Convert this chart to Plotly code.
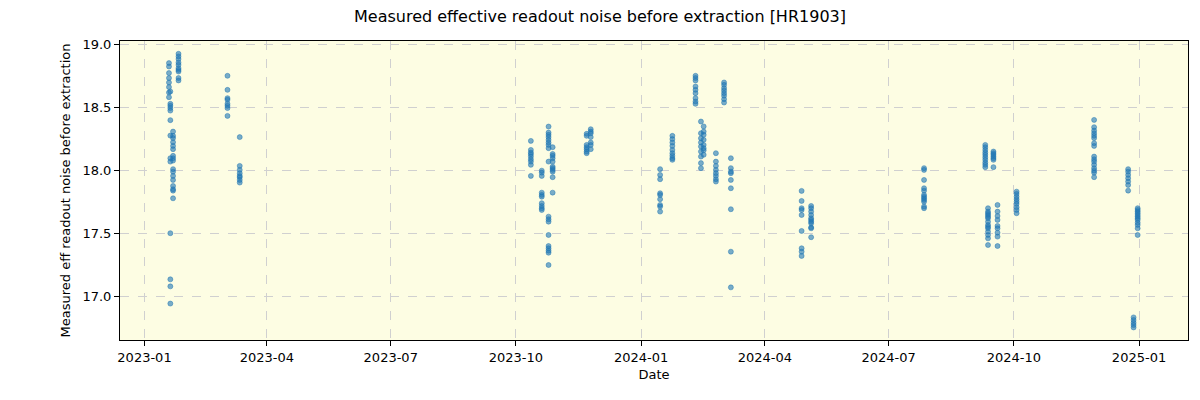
import plotly.graph_objects as go

# Observation nights (dates) and the measured noise values for each night
night_dates = [
    "2023-01-19", "2023-01-20", "2023-01-22", "2023-01-26",
    "2023-03-03", "2023-03-12",
    "2023-10-12", "2023-10-20", "2023-10-25", "2023-10-28",
    "2023-11-22", "2023-11-25",
    "2024-01-15", "2024-01-24", "2024-02-10", "2024-02-14", "2024-02-16",
    "2024-02-25", "2024-03-02", "2024-03-07",
    "2024-04-28", "2024-05-05",
    "2024-07-27", "2024-09-10", "2024-09-12", "2024-09-16", "2024-09-19",
    "2024-10-03",
    "2024-11-29", "2024-12-24", "2024-12-28", "2024-12-31",
]

night_values = [
    [18.854, 18.827, 18.775, 18.735, 18.70, 18.663, 18.62, 18.583],
    [18.628, 18.53, 18.514, 18.496, 18.476, 18.40, 18.277, 18.097, 18.07,
     17.50, 17.133, 17.077, 16.94],
    [18.309, 18.275, 18.257, 18.225, 18.195, 18.169, 18.116, 18.097, 18.078,
     18.01, 17.99, 17.956, 17.924, 17.876, 17.85, 17.839, 17.778],
    [18.928, 18.907, 18.886, 18.859, 18.84, 18.814, 18.80, 18.787, 18.735, 18.716],
    [18.753, 18.641, 18.575, 18.562, 18.53, 18.514, 18.496, 18.434],
    [18.265, 18.036, 18.004, 17.978, 17.956, 17.946, 17.924, 17.903],
    [18.235, 18.163, 18.142, 18.129, 18.11, 18.089, 18.07, 18.044, 17.956],
    [17.998, 17.982, 17.956, 17.823, 17.805, 17.791, 17.739, 17.717, 17.699, 17.685],
    [18.349, 18.301, 18.283, 18.265, 18.243, 18.222, 18.203, 18.177, 18.07,
     17.632, 17.611, 17.592, 17.486, 17.398, 17.38, 17.361, 17.345, 17.247],
    [18.185, 18.131, 18.116, 18.097, 18.07, 18.03, 18.018, 18.004, 17.99, 17.946, 17.823],
    [18.291, 18.275, 18.203, 18.185, 18.169, 18.15, 18.137],
    [18.328, 18.309, 18.296, 18.265, 18.222, 18.203, 18.169],
    [18.01, 17.964, 17.93, 17.818, 17.805, 17.771, 17.725, 17.712, 17.672],
    [18.275, 18.249, 18.222, 18.195, 18.163, 18.137, 18.116, 18.097, 18.084],
    [18.753, 18.735, 18.716, 18.668, 18.641, 18.615, 18.575, 18.548, 18.53],
    [18.389, 18.296, 18.256, 18.222, 18.19, 18.15, 18.11, 18.058, 18.018],
    [18.35, 18.309, 18.283, 18.243, 18.203, 18.177, 18.124, 18.16],
    [18.137, 18.07, 18.036, 18.004, 17.978, 17.956, 17.93, 17.911],
    [18.70, 18.681, 18.655, 18.636, 18.615, 18.594, 18.567, 18.54],
    [18.097, 18.018, 17.99, 17.978, 17.924, 17.858, 17.691, 17.353, 17.069],
    [17.837, 17.757, 17.699, 17.685, 17.645, 17.518, 17.38, 17.353, 17.319],
    [17.717, 17.699, 17.672, 17.645, 17.619, 17.606, 17.592, 17.579, 17.547,
     17.539, 17.468],
    [18.018, 18.004, 17.924, 17.858, 17.839, 17.805, 17.791, 17.778, 17.765,
     17.751, 17.712, 17.699],
    [18.203, 18.185, 18.163, 18.142, 18.124, 18.105, 18.084, 18.062, 18.044, 18.026],
    [17.699, 17.672, 17.658, 17.645, 17.632, 17.619, 17.592, 17.566, 17.552,
     17.539, 17.512, 17.486, 17.459, 17.406],
    [18.15, 18.137, 18.124, 18.11, 18.097, 18.084, 18.026],
    [17.725, 17.672, 17.637, 17.606, 17.558, 17.539, 17.504, 17.473, 17.398],
    [17.831, 17.813, 17.791, 17.771, 17.751, 17.733, 17.707, 17.685, 17.659],
    [18.402, 18.344, 18.317, 18.296, 18.275, 18.257, 18.217, 18.195,
     18.11, 18.089, 18.07, 18.044, 18.018, 17.998, 17.982, 17.946],
    [18.01, 17.99, 17.964, 17.938, 17.911, 17.884, 17.839],
    [16.83, 16.809, 16.787, 16.769, 16.75],
    [17.699, 17.685, 17.672, 17.659, 17.645, 17.632, 17.619, 17.606, 17.584,
     17.566, 17.539, 17.486],
]

y_ticks = [17.0, 17.5, 18.0, 18.5, 19.0]
x_range = ["2022-12-14", "2025-02-06"]
y_range = [16.65, 19.03]

xs, ys = [], []
for d, vals in zip(night_dates, night_values):
    for v in vals:
        xs.append(d)
        ys.append(v)

fig = go.Figure()
fig.add_trace(go.Scatter(
    x=xs, y=ys, mode="markers",
    marker=dict(size=5, color="rgba(31,119,180,0.6)",
                line=dict(width=0.8, color="rgba(31,119,180,0.6)")),
    showlegend=False,
))

font = "DejaVu Sans"
fig.update_layout(
    width=1200, height=400,
    margin=dict(l=120, r=12, t=41, b=60),
    paper_bgcolor="white",
    plot_bgcolor="#fdfde3",
    font=dict(family=font, size=13, color="black"),
    title=dict(text="Measured effective readout noise before extraction [HR1903]",
               x=0.5, xanchor="center", y=0.96, yanchor="middle",
               font=dict(size=16, family=font)),
)
fig.update_xaxes(
    range=x_range, type="date",
    tickformat="%Y-%m", dtick="M3", tick0="2023-01-01",
    showline=True, linecolor="black", linewidth=1, mirror=True,
    ticks="outside", ticklen=5, tickcolor="black",
    showgrid=True, gridcolor="#d0d0d0", griddash="dash", gridwidth=1,
    zeroline=False,
    title=dict(text="Date", font=dict(size=13), standoff=6),
)
fig.update_yaxes(
    range=y_range, tickvals=y_ticks, tickformat=".1f",
    showline=True, linecolor="black", linewidth=1, mirror=True,
    ticks="outside", ticklen=5, tickcolor="black",
    showgrid=True, gridcolor="#d0d0d0", griddash="dash", gridwidth=1,
    zeroline=False,
    title=dict(text="Measured eff readout noise before extraction",
               font=dict(size=13), standoff=8),
)

fig.write_html("out.html")
